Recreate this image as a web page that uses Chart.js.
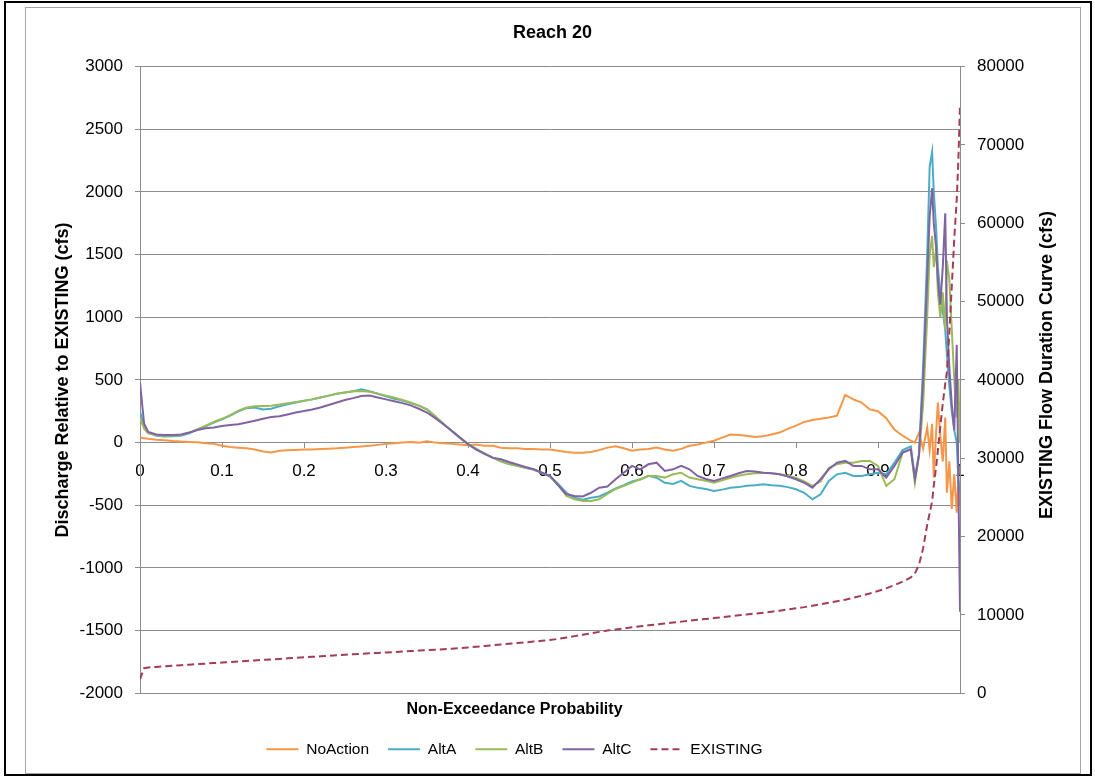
<!DOCTYPE html>
<html>
<head>
<meta charset="utf-8">
<title>Reach 20</title>
<script src="https://cdn.jsdelivr.net/npm/chart.js@4.4.1/dist/chart.umd.min.js"></script>
<style>
  html, body { margin: 0; padding: 0; background: #fff; }
  #wrap { position: relative; width: 1095px; height: 777px; }
  #wrap canvas { position: absolute; left: 0; top: 0; }
  #frame { position: absolute; left: 4px; top: 1px; width: 1088px; height: 775px; box-sizing: border-box; border: 2px solid #000; pointer-events: none; }
  #inner { position: absolute; left: 25px; top: 7px; width: 1056px; height: 767px; box-sizing: border-box; border: 1px solid #a6a6a6; pointer-events: none; }
</style>
</head>
<body>
<div id="wrap">
  <canvas id="reachChart" width="1095" height="777"></canvas>
  <div id="inner"></div>
  <div id="frame"></div>
</div>
<script>
// non-exceedance probability (x values shared by all series)
const prob = [0, 0.005,
  0.01, 0.02, 0.03, 0.04, 0.05, 0.06, 0.07, 0.08, 0.09, 0.10,
  0.11, 0.12, 0.13, 0.14, 0.15, 0.16, 0.17, 0.18, 0.19, 0.20,
  0.21, 0.22, 0.23, 0.24, 0.25, 0.26, 0.27, 0.28, 0.29, 0.30,
  0.31, 0.32, 0.33, 0.34, 0.35, 0.36, 0.37, 0.38, 0.39, 0.40,
  0.41, 0.42, 0.43, 0.44, 0.45, 0.46, 0.47, 0.48, 0.49, 0.50,
  0.51, 0.52, 0.53, 0.54, 0.55, 0.56, 0.57, 0.58, 0.59, 0.60,
  0.61, 0.62, 0.63, 0.64, 0.65, 0.66, 0.67, 0.68, 0.69, 0.70,
  0.71, 0.72, 0.73, 0.74, 0.75, 0.76, 0.77, 0.78, 0.79, 0.80,
  0.81, 0.82, 0.83, 0.84, 0.85, 0.86, 0.87, 0.88, 0.89, 0.90,
  0.91, 0.92, 0.93, 0.94,
  0.945, 0.95, 0.955, 0.96, 0.963, 0.966, 0.968, 0.971, 0.973, 0.976,
  0.979, 0.982, 0.984, 0.987, 0.99, 0.993, 0.996, 0.998, 1];

// discharge relative to EXISTING (cfs)
const noAction = [40, 35,
  30, 22, 18, 12, 8, 5, 2, -5, -10, -25,
  -35, -40, -45, -55, -70, -78, -65, -60, -58, -55,
  -55, -50, -48, -45, -40, -35, -30, -25, -18, -10,
  -5, 0, 5, 0, 10, 0, -5, -10, -15, -20,
  -15, -25, -25, -40, -45, -45, -50, -50, -55, -55,
  -65, -75, -80, -80, -75, -60, -40, -30, -45, -65,
  -55, -50, -40, -55, -65, -50, -25, -15, 0, 15,
  40, 65, 60, 55, 45, 50, 65, 80, 110, 135,
  165, 180, 190, 200, 215, 380, 345, 320, 265, 250,
  195, 105, 55, 15,
  0, 80, -50, 120, -60, 150, -280, 100, 320, 50,
  -150, 200, -400, -150, -530, -250, -560, -300, -500];

const altA = [250, 120,
  80, 55, 48, 50, 55, 75, 105, 130, 160, 185,
  215, 250, 275, 280, 265, 270, 290, 305, 320, 335,
  345, 360, 375, 390, 400, 410, 425, 410, 390, 370,
  350, 335, 315, 295, 265, 210, 150, 95, 40, -10,
  -50, -85, -120, -150, -170, -185, -200, -215, -240, -270,
  -330, -400, -440, -455, -440, -430, -400, -365, -340, -310,
  -295, -265, -280, -320, -330, -305, -345, -360, -370, -385,
  -375, -360, -355, -345, -340, -332, -340, -345, -355, -372,
  -400, -452, -412, -306, -253, -240, -266, -266, -253, -240,
  -253, -160, -60, -30,
  -280, -90, 600, 1500, 2200, 2320, 2000, 1700, 1400, 1200,
  1050, 900, 700, 450, 250, 100, 0, -300, -400];

const altB = [200, 110,
  75, 60, 55, 55, 60, 80, 105, 135, 165, 190,
  220, 255, 280, 290, 292, 295, 305, 315, 325, 332,
  345, 360, 375, 390, 400, 410, 412, 405, 390, 375,
  360, 340, 320, 295, 265, 210, 150, 95, 40, -10,
  -50, -85, -120, -150, -170, -185, -200, -215, -240, -270,
  -340, -425, -452, -465, -465, -452, -410, -370, -345, -319,
  -292, -266, -266, -279, -253, -240, -279, -292, -305, -319,
  -300, -280, -265, -253, -245, -240, -245, -253, -265, -279,
  -310, -345, -310, -200, -173, -160, -160, -146, -146, -186,
  -345, -292, -80, -53,
  -320, -100, 300, 1000, 1500, 1650, 1400, 1550, 1200, 1000,
  1200, 900, 1450, 1300, 900, 500, 200, 500, 0];

const altC = [480, 150,
  85, 65, 60, 60, 65, 80, 100, 115, 120, 133,
  140, 146, 160, 175, 190, 205, 210, 225, 240, 253,
  265, 280, 300, 320, 340, 355, 372, 375, 360, 345,
  330, 315, 297, 270, 240, 195, 146, 95, 40, -13,
  -55, -90, -120, -133, -155, -175, -195, -213, -240, -266,
  -340, -412, -425, -430, -400, -360, -350, -292, -240, -186,
  -213, -173, -160, -226, -213, -186, -213, -266, -290, -306,
  -285, -266, -245, -226, -230, -240, -245, -253, -270, -292,
  -320, -359, -292, -213, -160, -146, -186, -186, -213, -213,
  -279, -186, -80, -53,
  -290, -100, 500, 1300, 1800, 2030, 1750, 1550, 1300, 1100,
  1400, 1830, 1000, 600, 300, 100, 780, -300, -1350];

// EXISTING flow duration curve (cfs), right axis
const existing = [1800, 3200,
  3300, 3370, 3440, 3510, 3580, 3650, 3720, 3790, 3860, 3930,
  4000, 4070, 4130, 4200, 4260, 4330, 4390, 4460, 4520, 4590,
  4650, 4720, 4780, 4850, 4920, 4980, 5040, 5100, 5160, 5210,
  5270, 5330, 5390, 5450, 5500, 5560, 5620, 5690, 5770, 5860,
  5950, 6040, 6140, 6230, 6320, 6410, 6500, 6600, 6700, 6800,
  6950, 7120, 7300, 7480, 7660, 7840, 8010, 8150, 8290, 8420,
  8550, 8680, 8800, 8920, 9040, 9150, 9260, 9380, 9490, 9600,
  9720, 9830, 9950, 10060, 10180, 10290, 10420, 10550, 10700, 10850,
  11000, 11180, 11360, 11550, 11750, 11950, 12200, 12450, 12750, 13050,
  13400, 13800, 14250, 14800,
  15300, 16400, 18500, 21500, 23000, 24500, 26500, 29000, 31000, 34000,
  37000, 39500, 41000, 46000, 52000, 58000, 63000, 68000, 75000];

const fontFamily = "'Liberation Sans', Arial, Helvetica, sans-serif";
const gridGray = "#8c8c8c";

Chart.defaults.font.family = fontFamily;
Chart.defaults.color = "#000";

function pairs(ys) {
    return prob.map((p, i) => ({ x: p, y: ys[i] }));
}

function lineSet(label, ys, color, axis, order) {
    return {
        label: label,
        data: pairs(ys),
        borderColor: color,
        backgroundColor: color,
        borderWidth: 2,
        pointRadius: 0,
        pointStyle: "line",
        tension: 0,
        fill: false,
        yAxisID: axis,
        order: order
    };
}

// Excel puts the x title and legend a bit left of the plot centre
const shiftBottom = {
    id: "shiftBottom",
    afterLayout(chart) {
        chart.boxes.forEach(b => {
            if (b.position === "bottom" && !b.axis) {
                b.left -= 38;
                b.right -= 38;
            }
        });
    }
};

// right axis title reads bottom-to-top like the left one
const rightTitle = {
    id: "rightTitle",
    afterDraw(chart) {
        const s = chart.scales.y1;
        const ctx = chart.ctx;
        ctx.save();
        ctx.font = "bold 18px " + fontFamily;
        ctx.fillStyle = "#000";
        ctx.textAlign = "center";
        ctx.textBaseline = "middle";
        ctx.translate(s.right - 33, (s.top + s.bottom) / 2 - 15);
        ctx.rotate(-Math.PI / 2);
        ctx.fillText("EXISTING Flow Duration Curve (cfs)", 0, 0);
        ctx.restore();
    }
};

const existingSet = lineSet("EXISTING", existing, "#a33d55", "y1", 1);
existingSet.borderDash = [7, 4];

function legendLabels(chart) {
    const items = Chart.defaults.plugins.legend.labels.generateLabels(chart);
    items.forEach(item => {
        const ds = chart.data.datasets[item.datasetIndex];
        item.lineWidth = 2;
        item.strokeStyle = ds.borderColor;
        item.lineDash = ds.borderDash || [];
    });
    return items;
}

const ctx = document.getElementById("reachChart").getContext("2d");
const chart = new Chart(ctx, {
    type: "line",
    data: {
        datasets: [
            lineSet("NoAction", noAction, "#f79646", "y", 5),
            lineSet("AltA", altA, "#4bacc6", "y", 4),
            lineSet("AltB", altB, "#9bbb59", "y", 3),
            lineSet("AltC", altC, "#8064a2", "y", 2),
            existingSet
        ]
    },
    options: {
        responsive: false,
        animation: false,
        devicePixelRatio: 1,
        layout: { padding: { left: 25, right: 15, top: 8, bottom: 10 } },
        plugins: {
            title: {
                display: true,
                text: "Reach 20",
                color: "#000",
                font: { size: 18, weight: "bold" },
                padding: { top: 14, bottom: 23 }
            },
            subtitle: {
                display: true,
                position: "bottom",
                weight: 500,
                text: "Non-Exceedance Probability",
                color: "#000",
                font: { size: 16, weight: "bold" },
                padding: { top: 7, bottom: 3 }
            },
            legend: {
                position: "bottom",
                labels: {
                    usePointStyle: true,
                    pointStyleWidth: 32,
                    padding: 19,
                    color: "#000",
                    font: { size: 15.5 },
                    generateLabels: legendLabels,
                    sort: (a, b) => a.datasetIndex - b.datasetIndex
                }
            },
            tooltip: { enabled: false }
        },
        scales: {
            x: {
                type: "linear",
                min: 0,
                max: 1,
                position: { y: 0 },
                ticks: {
                    stepSize: 0.1,
                    color: "#000",
                    font: { size: 17 },
                    padding: 13,
                    maxRotation: 0,
                    autoSkip: false,
                    callback: v => String(Math.round(v * 10) / 10)
                },
                grid: { drawOnChartArea: false, tickLength: 5, color: gridGray },
                border: { display: true, color: gridGray }
            },
            y: {
                position: "left",
                min: -2000,
                max: 3000,
                ticks: { stepSize: 500, color: "#000", font: { size: 17 }, padding: 12, callback: v => String(v) },
                grid: { color: gridGray, tickLength: 5 },
                border: { color: gridGray },
                title: {
                    display: true,
                    text: "Discharge Relative to EXISTING (cfs)",
                    color: "#000",
                    font: { size: 18, weight: "bold" },
                    padding: { top: 27, bottom: 0 }
                },
                afterFit: s => { s.width = 115; }
            },
            y1: {
                position: "right",
                min: 0,
                max: 80000,
                ticks: { stepSize: 10000, color: "#000", font: { size: 17 }, padding: 12, callback: v => String(v) },
                grid: { drawOnChartArea: false, tickLength: 5, color: gridGray },
                border: { color: gridGray },
                afterFit: s => { s.width = 120; }
            }
        }
    },
    plugins: [shiftBottom, rightTitle]
});
</script>
</body>
</html>
